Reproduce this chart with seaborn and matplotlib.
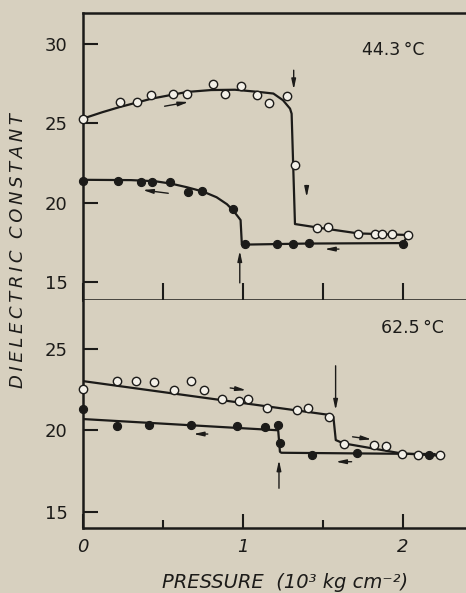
import numpy as np
import pandas as pd
import seaborn as sns
import matplotlib.pyplot as plt

# ---- data (x in 10^3 kg cm^-2) ----
# 44.3 C, open = increasing pressure, filled = decreasing pressure
t1_open_x = [0.0, 0.23, 0.335, 0.425, 0.56, 0.65, 0.81, 0.89, 0.99, 1.09, 1.164, 1.275, 1.323,
             1.463, 1.53, 1.717, 1.827, 1.87, 1.93, 2.03]
t1_open_y = [25.3, 26.35, 26.35, 26.77, 26.88, 26.86, 27.47, 26.84, 27.36, 26.79, 26.31, 26.75, 22.39,
             18.40, 18.44, 18.04, 18.04, 18.04, 18.02, 17.93]
t1_fill_x = [0.0, 0.22, 0.36, 0.43, 0.545, 0.658, 0.745, 0.94, 1.01, 1.215, 1.31, 1.41, 2.0]
t1_fill_y = [21.39, 21.37, 21.33, 21.31, 21.31, 20.70, 20.74, 19.60, 17.41, 17.41, 17.41, 17.45, 17.39]

t1_open_curve_x = [0.0, 0.12, 0.23, 0.43, 0.65, 0.8, 0.95, 1.1, 1.19, 1.25, 1.294, 1.304, 1.325,
                   1.46, 1.72, 2.03]
t1_open_curve_y = [25.3, 25.7, 26.03, 26.56, 26.98, 27.1, 27.12, 26.98, 26.88, 26.46, 25.93, 25.61, 18.65,
                   18.44, 18.06, 17.96]
t1_fill_curve_x = [0.0, 0.3, 0.45, 0.55, 0.65, 0.75, 0.835, 0.9, 0.94, 0.97, 0.985, 0.993, 1.4, 2.0, 2.03]
t1_fill_curve_y = [21.44, 21.42, 21.35, 21.2, 20.97, 20.7, 20.34, 19.9, 19.49, 19.1, 18.9, 17.35, 17.42,
                   17.45, 17.9]

# 62.5 C
t2_open_x = [0.0, 0.21, 0.33, 0.445, 0.566, 0.677, 0.756, 0.867, 0.973, 1.033, 1.148, 1.34, 1.408,
             1.54, 1.631, 1.817, 1.894, 1.996, 2.096, 2.229]
t2_open_y = [22.55, 23.04, 23.04, 22.98, 22.49, 23.0, 22.49, 21.91, 21.81, 21.91, 21.38, 21.24, 21.34,
             20.81, 19.17, 19.07, 19.03, 18.56, 18.48, 18.48]
t2_fill_x = [0.0, 0.21, 0.41, 0.675, 0.96, 1.14, 1.22, 1.233, 1.43, 1.714, 2.16]
t2_fill_y = [21.30, 20.26, 20.34, 20.32, 20.24, 20.21, 20.32, 19.23, 18.50, 18.62, 18.48]

t2_open_curve_x = [0.0, 1.55, 1.565, 1.58, 1.627, 1.99, 2.23]
t2_open_curve_y = [23.02, 20.93, 20.83, 19.4, 19.2, 18.58, 18.44]
t2_fill_curve_x = [0.0, 1.22, 1.231, 1.24, 2.2]
t2_fill_curve_y = [20.69, 20.0, 18.68, 18.62, 18.54]

# arrows: (x_tail, y_tail, x_head, y_head)
t1_arrows = [(1.317, 28.35, 1.317, 27.13), (1.398, 21.08, 1.398, 20.34), (0.98, 14.94, 0.98, 16.96),
             (0.51, 26.08, 0.66, 26.35), (0.533, 20.59, 0.373, 20.8), (1.60, 17.07, 1.51, 17.07)]
t2_arrows = [(1.579, 23.96, 1.579, 21.24), (1.225, 16.44, 1.225, 18.17), (0.92, 22.6, 1.02, 22.46),
             (0.78, 19.77, 0.69, 19.77), (1.685, 19.6, 1.804, 19.44), (1.679, 18.07, 1.58, 18.07)]

panels = [
    dict(label="44.3\u2009°C", lx=1.94, ly=29.62, ylim=(13.86, 31.96), yt=[15, 20, 25, 30],
         ox=t1_open_x, oy=t1_open_y, fx=t1_fill_x, fy=t1_fill_y,
         ocx=t1_open_curve_x, ocy=t1_open_curve_y, fcx=t1_fill_curve_x, fcy=t1_fill_curve_y,
         arrows=t1_arrows),
    dict(label="62.5\u2009°C", lx=2.06, ly=26.25, ylim=(14.0, 28.0), yt=[15, 20, 25],
         ox=t2_open_x, oy=t2_open_y, fx=t2_fill_x, fy=t2_fill_y,
         ocx=t2_open_curve_x, ocy=t2_open_curve_y, fcx=t2_fill_curve_x, fcy=t2_fill_curve_y,
         arrows=t2_arrows),
]

sns.set_style("ticks")
plt.rcParams['font.family'] = ['DejaVu Sans']
bg = '#d7d0bf'
ink = '#1c1b19'

fig = plt.figure(figsize=(4.66, 5.93), dpi=100, facecolor=bg)
ax_top = fig.add_axes([0.1781, 0.4941, 0.8219, 0.4840])
ax_bot = fig.add_axes([0.1781, 0.1096, 0.8219, 0.3845])

for ax, p in zip([ax_top, ax_bot], panels):
    ax.set_facecolor(bg)
    sns.lineplot(x=p['ocx'], y=p['ocy'], sort=False, estimator=None, color=ink, lw=1.6, ax=ax)
    sns.lineplot(x=p['fcx'], y=p['fcy'], sort=False, estimator=None, color=ink, lw=1.6, ax=ax)
    sns.scatterplot(x=p['fx'], y=p['fy'], s=34, color=ink, edgecolor=ink, linewidth=0.8,
                    ax=ax, zorder=5, clip_on=False)
    sns.scatterplot(x=p['ox'], y=p['oy'], s=36, color='#f3f0e8', edgecolor=ink, linewidth=1.0,
                    ax=ax, zorder=6, clip_on=False)
    for x0, y0, x1, y1 in p['arrows']:
        ax.annotate("", xy=(x1, y1), xytext=(x0, y0),
                    arrowprops=dict(arrowstyle='-|>,head_width=0.13,head_length=0.6',
                                    lw=1.0, color=ink, shrinkA=0, shrinkB=0))
    ax.text(p['lx'], p['ly'], p['label'], fontsize=12.5, ha='center', va='center', color=ink)
    ax.set_xlim(0, 2.394)
    ax.set_ylim(*p['ylim'])
    ax.set_yticks(p['yt'])
    ax.set_yticklabels([str(v) for v in p['yt']])
    ax.set_xticks([0, 0.5, 1, 1.5, 2])
    ax.tick_params(axis='y', direction='in', length=10.5, width=1.5, pad=11,
                   labelsize=13, colors=ink)
    ax.spines['right'].set_visible(False)
    for s in ['left', 'top', 'bottom']:
        ax.spines[s].set_linewidth(1.8)
        ax.spines[s].set_color(ink)
    ax.set_xlabel("")
    ax.set_ylabel("")

ax_top.tick_params(axis='x', direction='in', length=12, width=1.5, labelbottom=False, colors=ink)

ax_bot.spines['top'].set_visible(False)
ax_bot.set_xticks([0, 1, 2])
ax_bot.set_xticklabels(['0', '1', '2'])
ax_bot.set_xticks([0.5, 1.5], minor=True)
ax_bot.tick_params(axis='x', which='major', direction='in', length=10, width=1.5, pad=7,
                   labelsize=13, colors=ink)
ax_bot.tick_params(axis='x', which='minor', direction='in', length=5.5, width=1.5, colors=ink)
for lab in ax_bot.get_xticklabels():
    lab.set_fontstyle('italic')

fig.text(0.612, 0.0169, "PRESSURE  (10³ kg cm⁻²)", fontsize=14, fontstyle='italic',
         ha='center', va='center', color=ink)
ylab = "\u2009".join("DIELECTRIC") + "  " + "\u2009".join("CONSTANT")
fig.text(0.0386, 0.577, ylab, fontsize=13, fontstyle='italic',
         rotation=90, ha='center', va='center', color=ink)

fig.savefig("out.png", dpi=100, facecolor=bg)
